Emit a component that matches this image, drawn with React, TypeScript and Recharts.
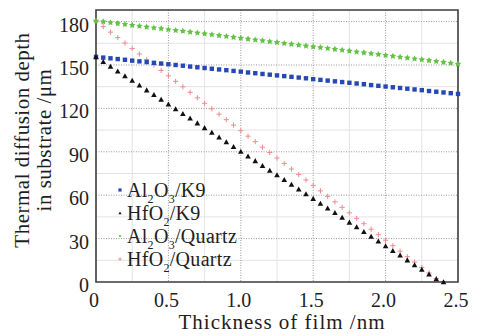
import { ScatterChart, Scatter, XAxis, YAxis, CartesianGrid, ReferenceArea, Legend } from 'recharts';

// film thickness (nm), one point every 0.05 nm
const thickness = [
  0, 0.05, 0.1, 0.15, 0.2, 0.25, 0.3, 0.35, 0.4, 0.45,
  0.5, 0.55, 0.6, 0.65, 0.7, 0.75, 0.8, 0.85, 0.9, 0.95,
  1.0, 1.05, 1.1, 1.15, 1.2, 1.25, 1.3, 1.35, 1.4, 1.45,
  1.5, 1.55, 1.6, 1.65, 1.7, 1.75, 1.8, 1.85, 1.9, 1.95,
  2.0, 2.05, 2.1, 2.15, 2.2, 2.25, 2.3, 2.35, 2.4, 2.45, 2.5,
];

// thermal diffusion depth in substrate (um)
const al2o3K9 = [
  155.6, 155.1, 154.6, 154.1, 153.6, 153.0, 152.5, 152.0, 151.5, 151.0,
  150.5, 150.0, 149.5, 148.9, 148.4, 147.9, 147.4, 146.9, 146.4, 145.9,
  145.4, 144.8, 144.3, 143.8, 143.3, 142.8, 142.3, 141.8, 141.3, 140.8,
  140.2, 139.7, 139.2, 138.7, 138.2, 137.7, 137.2, 136.7, 136.1, 135.6,
  135.1, 134.6, 134.1, 133.6, 133.1, 132.6, 132.0, 131.5, 131.0, 130.5, 130.0,
];
const hfo2K9 = [
  155.5, 152.2, 149.0, 145.7, 142.4, 139.2, 135.9, 132.6, 129.4, 126.1,
  122.9, 119.6, 116.3, 113.1, 109.8, 106.5, 103.3, 100.0, 96.7, 93.5,
  90.2, 86.9, 83.7, 80.4, 77.1, 73.9, 70.6, 67.3, 64.1, 60.8,
  57.6, 54.3, 51.0, 47.8, 44.5, 41.2, 38.0, 34.7, 31.4, 28.2,
  24.9, 21.6, 18.4, 15.1, 11.8, 8.6, 5.3, 2.0, 0,
];
const al2o3Quartz = [
  180.5, 179.9, 179.3, 178.7, 178.1, 177.5, 176.9, 176.3, 175.7, 175.1,
  174.5, 173.9, 173.4, 172.8, 172.2, 171.6, 171.0, 170.4, 169.8, 169.2,
  168.6, 168.0, 167.4, 166.8, 166.2, 165.6, 165.0, 164.4, 163.8, 163.2,
  162.6, 162.1, 161.5, 160.9, 160.3, 159.7, 159.1, 158.5, 157.9, 157.3,
  156.7, 156.1, 155.5, 154.9, 154.3, 153.7, 153.1, 152.5, 151.9, 151.3, 150.7,
];
const hfo2Quartz = [
  180.3, 176.5, 172.7, 168.9, 165.2, 161.4, 157.6, 153.8, 150.0, 146.2,
  142.5, 138.7, 134.9, 131.1, 127.3, 123.5, 119.7, 116.0, 112.2, 108.4,
  104.6, 100.8, 97.0, 93.2, 89.5, 85.7, 81.9, 78.1, 74.3, 70.5,
  66.8, 63.0, 59.2, 55.4, 51.6, 47.8, 44.0, 40.3, 36.5, 32.7,
  28.9, 25.1, 21.3, 17.5, 13.8, 10.0, 6.2, 2.4,
];

const xTicks = [0, 0.5, 1.0, 1.5, 2.0, 2.5];
const yTicks = [0, 30, 60, 90, 120, 150, 180];
const xMajorGrid = [0.5, 1.0, 1.5, 2.0];
const xMinorGrid = [0.25, 0.75, 1.25, 1.75, 2.25];
const yMajorGrid = [30, 60, 90, 120, 150, 180];
const yMinorGrid = [15, 45, 75, 105, 135, 165];

const toPoints = (ys: number[]) => ys.map((y, i) => ({ x: thickness[i], y }));

const FONT = 'Liberation Serif';
const TEXT = '#1e1e1e';

const square = (color: string, s = 2.2) => (p: any) => (
  <rect x={p.cx - s} y={p.cy - s} width={s * 2} height={s * 2} fill={color} />
);
const triangle = (color: string, s = 2.8) => (p: any) => (
  <polygon
    points={`${p.cx},${p.cy - s} ${p.cx + s},${p.cy + s * 0.8} ${p.cx - s},${p.cy + s * 0.8}`}
    fill={color}
  />
);
const star = (color: string, r = 3.4) => (p: any) => {
  const pts: string[] = [];
  for (let i = 0; i < 10; i++) {
    const rad = i % 2 === 0 ? r : r * 0.5;
    const a = -Math.PI / 2 + (i * Math.PI) / 5;
    pts.push(`${p.cx + rad * Math.cos(a)},${p.cy + rad * Math.sin(a)}`);
  }
  return <polygon points={pts.join(' ')} fill={color} />;
};
const plus = (color: string, s = 2.6) => (p: any) => (
  <path
    d={`M${p.cx - s},${p.cy}H${p.cx + s}M${p.cx},${p.cy - s}V${p.cy + s}`}
    stroke={color}
    strokeWidth={1}
    fill="none"
  />
);

const sub = (t: string) => (
  <sub style={{ fontSize: 12, verticalAlign: -6, lineHeight: 0 }}>{t}</sub>
);

const series = [
  { name: 'Al2O3/K9', data: al2o3K9, color: '#2748b3', shape: square, label: <>Al{sub('2')}O{sub('3')}/K9</> },
  { name: 'HfO2/K9', data: hfo2K9, color: '#111111', shape: triangle, label: <>HfO{sub('2')}/K9</> },
  { name: 'Al2O3/Quartz', data: al2o3Quartz, color: '#62c243', shape: star, label: <>Al{sub('2')}O{sub('3')}/Quartz</> },
  { name: 'HfO2/Quartz', data: hfo2Quartz, color: '#ef8a8e', shape: plus, label: <>HfO{sub('2')}/Quartz</> },
];
// drawing order: quartz series underneath, K9 on top
const drawOrder = [3, 2, 0, 1];

const XTick = ({ x, y, payload }: any) => (
  <text x={x - 2} y={y + 25} textAnchor="middle" style={{ fontSize: 20, fontFamily: FONT, fill: TEXT }}>
    {payload.value === 0 ? '0' : payload.value.toFixed(1)}
  </text>
);

const YTick = ({ x, y, payload }: any) => (
  <text x={x} y={y + 10} textAnchor="end" style={{ fontSize: 20, fontFamily: FONT, fill: TEXT }}>
    {payload.value}
  </text>
);

const XTitle = ({ viewBox }: any) => (
  <text
    x={viewBox.x + viewBox.width / 2 + 5}
    y={viewBox.y + 47}
    textAnchor="middle"
    style={{ fontSize: 21, letterSpacing: 1, fontFamily: FONT, fill: TEXT }}
  >
    Thickness of film /nm
  </text>
);

const YTitle = ({ viewBox }: any) => {
  const cy = viewBox.y + viewBox.height / 2 - 6;
  const x1 = viewBox.x + 29;
  const x2 = viewBox.x + 51;
  const st = { fontSize: 21, letterSpacing: 0.5, fontFamily: FONT, fill: TEXT };
  return (
    <g>
      <text x={x1} y={cy} textAnchor="middle" transform={`rotate(-90, ${x1}, ${cy})`} style={st}>
        Thermal diffusion depth
      </text>
      <text x={x2} y={cy} textAnchor="middle" transform={`rotate(-90, ${x2}, ${cy})`} style={st}>
        in substrate /μm
      </text>
    </g>
  );
};

const LegendBox = () => (
  <div style={{ fontFamily: FONT, fontSize: 20, color: TEXT, letterSpacing: 0.3 }}>
    {series.map((s) => (
      <div key={s.name} style={{ display: 'flex', alignItems: 'center', height: 23, lineHeight: '20px', whiteSpace: 'nowrap' }}>
        <svg width={8} height={8} style={{ marginRight: 3 }}>
          {s.shape(s.color, 1.6)({ cx: 4, cy: 4 })}
        </svg>
        <span>{s.label}</span>
      </div>
    ))}
  </div>
);

export default function App() {
  return (
    <div style={{ position: 'absolute', left: 0, top: 0, background: '#fff', fontFamily: FONT }}>
      <ScatterChart width={485} height={336} margin={{ top: 10, right: 27, bottom: 0, left: 0 }}>
        <CartesianGrid
          stroke="#e3e3e3"
          strokeWidth={1}
          horizontalValues={yMinorGrid}
          verticalValues={xMinorGrid}
        />
        <CartesianGrid
          stroke="#9a9a9a"
          strokeWidth={1}
          strokeDasharray="1 1.5"
          horizontalValues={yMajorGrid}
          verticalValues={xMajorGrid}
        />
        <XAxis
          type="number"
          dataKey="x"
          domain={[0, 2.5]}
          ticks={xTicks}
          axisLine={false}
          tickLine={false}
          tickSize={0}
          tickMargin={0}
          height={54}
          tick={<XTick />}
          label={<XTitle />}
        />
        <YAxis
          type="number"
          dataKey="y"
          domain={[0, 188]}
          ticks={yTicks}
          axisLine={false}
          tickLine={false}
          tickSize={0}
          tickMargin={7}
          width={96}
          tick={<YTick />}
          label={<YTitle />}
        />
        <ReferenceArea
          x1={0}
          x2={2.5}
          y1={0}
          y2={188}
          fill="none"
          stroke="#3c3c3c"
          strokeWidth={1.6}
          ifOverflow="visible"
        />
        {drawOrder.map((i) => {
          const s = series[i];
          return (
            <Scatter
              key={s.name}
              name={s.name}
              data={toPoints(s.data)}
              fill={s.color}
              shape={s.shape(s.color)}
              isAnimationActive={false}
            />
          );
        })}
        <Legend
          layout="vertical"
          align="center"
          verticalAlign="middle"
          content={<LegendBox />}
          wrapperStyle={{ left: 116, top: 178, width: 'auto' }}
        />
      </ScatterChart>
    </div>
  );
}
